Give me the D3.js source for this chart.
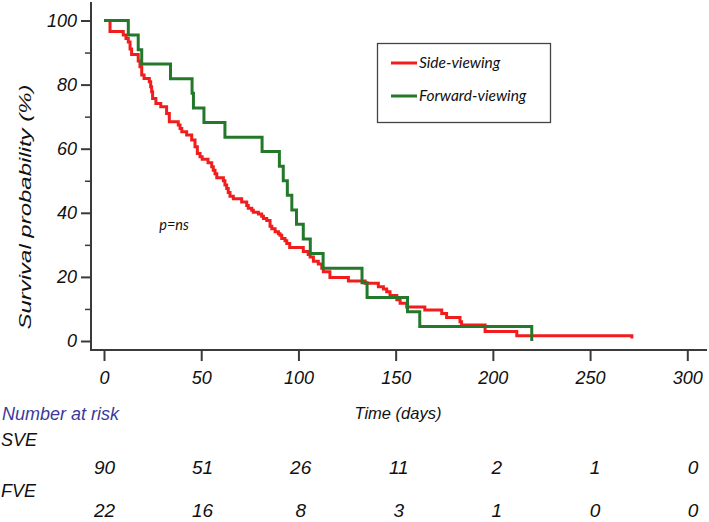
<!DOCTYPE html>
<html><head><meta charset="utf-8">
<script src="https://cdn.jsdelivr.net/npm/d3@7"></script>
<style>body{margin:0;background:#fff}svg{display:block}</style>
</head><body>
<script>
// ---- data ----
const sveTimes = [0,3.1,9.9,11.3,12.5,13.4,14.2,17.6,18.5,19.4,20.6,23.3,24.0,24.5,25.0,26.7,29.2,32.2,33.6,38.2,39.1,40.0,42.5,45.1,46.8,48.0,49.4,50.5,53.5,55.4,56.2,57.1,58.0,61.4,62.2,63.1,63.9,64.8,66.5,70.8,73.4,74.2,76.0,76.8,79.4,81.1,82.0,83.7,85.4,86.3,88.0,89.7,90.5,91.4,93.1,94.0,95.5,102.5,105,106,107.7,110.2,112,112.8,116.2,125.7,134.3,141.1,143.7,145.4,147.1,150.6,152.3,155.7,165,173.7,176.2,183.1,183.9,196,212.3,271.5];
const sveSurv  = [100,96.6,95.5,94.4,93.3,91.1,89.4,87.4,85.6,83.0,81.9,80.9,79.3,77.8,75.7,74.1,73.1,71.0,68.4,67.4,66.3,65.3,64.3,62.7,60.6,58.5,57.5,56.7,55.6,54.4,53.3,52.2,50.9,50.0,48.7,47.6,46.3,45.2,44.4,43.4,42.3,41.4,40.8,40.2,39.6,38.9,38.2,37.6,35.8,35.0,34.1,33.5,33.0,32.0,31.3,30.4,29.2,27.9,27.0,26.2,24.9,24.0,22.7,21.6,19.8,18.7,18.0,16.9,16.2,15.4,14.2,12.9,11.8,10.6,9.7,8.6,7.3,6.0,5.0,3.0,1.6,0.8];
const fveTimes = [0,12.5,17.6,19.4,34.2,45.3,46.0,51.4,62.2,81.3,90.2,92.2,94.3,96.6,99.0,102.5,106.1,112.7,132.7,135.3,156.1,162.4,220];
const fveSurv  = [100,95.5,90.9,86.4,81.8,77.3,72.7,68.2,63.6,59.1,54.5,50.0,45.5,40.9,36.4,31.8,27.3,22.7,18.2,13.6,9.1,4.5,0];
const seriesNames = ["Side-viewing","Forward-viewing"];
const seriesColors = ["#f21c1c","#23782a"];
const xTicks = [0,50,100,150,200,250,300];
const yTicks = [0,20,40,60,80,100];
const yMinorTicks = [10,30,50,70,90];
const riskTimes = [0,50,100,150,200,250,300];
const riskGroups = ["SVE","FVE"];
const sveRisk = [90,51,26,11,2,1,0];
const fveRisk = [22,16,8,3,1,0,0];

// ---- layout ----
const W = 709, H = 522;
const svg = d3.select("body").append("svg").attr("width",W).attr("height",H);
const x = d3.scaleLinear().domain([0,300]).range([104,687.3]);
const y = d3.scaleLinear().domain([0,100]).range([341,20.5]);
const xRisk = d3.scaleLinear().domain([0,300]).range([104.5,693]);
const axisY0 = 350, axisX0 = 91;
const fontA = "'Liberation Sans', Arial, sans-serif";
const fontC = "Lato, 'Open Sans', sans-serif";
const axisColor = "#3a3a3a";

// axis lines
svg.append("line").attr("x1",axisX0).attr("x2",axisX0).attr("y1",2).attr("y2",axisY0+1)
  .attr("stroke",axisColor).attr("stroke-width",2);
svg.append("line").attr("x1",axisX0-1).attr("x2",707).attr("y1",axisY0).attr("y2",axisY0)
  .attr("stroke",axisColor).attr("stroke-width",2);

// y axis
const gy = svg.append("g").attr("transform",`translate(${axisX0},0)`)
  .call(d3.axisLeft(y).tickValues(yTicks).tickSize(10).tickPadding(4).tickFormat(d3.format("d")));
gy.select(".domain").remove();
gy.selectAll("line").attr("stroke",axisColor).attr("stroke-width",2);
gy.selectAll("text").attr("font-family",fontA).attr("font-style","italic").attr("font-size",18).attr("fill","#111");
const gym = svg.append("g").attr("transform",`translate(${axisX0},0)`)
  .call(d3.axisLeft(y).tickValues(yMinorTicks).tickSize(6).tickFormat(""));
gym.select(".domain").remove();
gym.selectAll("line").attr("stroke",axisColor).attr("stroke-width",1.5);

// x axis
const gx = svg.append("g").attr("transform",`translate(0,${axisY0})`)
  .call(d3.axisBottom(x).tickValues(xTicks).tickSize(11).tickPadding(10).tickFormat(d3.format("d")));
gx.select(".domain").remove();
gx.selectAll("line").attr("stroke",axisColor).attr("stroke-width",2);
gx.selectAll("text").attr("font-family",fontA).attr("font-style","italic").attr("font-size",18).attr("fill","#111");

// axis titles
svg.append("text").attr("transform","translate(25,207) rotate(-90)")
  .attr("text-anchor","middle").attr("dominant-baseline","central")
  .attr("font-family",fontA).attr("font-style","italic").attr("font-size",17).attr("fill","#111")
  .attr("textLength",245).attr("lengthAdjust","spacingAndGlyphs")
  .text("Survival probability (%)");
svg.append("text").attr("x",398).attr("y",419).attr("text-anchor","middle")
  .attr("font-family",fontA).attr("font-style","italic").attr("font-size",16.5).attr("fill","#111")
  .text("Time (days)");

// curves
const line = d3.line().x(d=>x(d[0])).y(d=>y(d[1])).curve(d3.curveStepAfter);
const series = [d3.zip(sveTimes,sveSurv), d3.zip(fveTimes,fveSurv)];
svg.append("path").datum(series[0]).attr("d",line).attr("fill","none")
  .attr("stroke",seriesColors[0]).attr("stroke-width",3).attr("stroke-linejoin","miter");
svg.append("path").datum(series[1]).attr("d",line).attr("fill","none")
  .attr("stroke",seriesColors[1]).attr("stroke-width",3).attr("stroke-linejoin","miter");

// p value
svg.append("text").attr("x",174).attr("y",230).attr("text-anchor","middle")
  .attr("font-family",fontC).attr("font-style","italic").attr("font-size",14.5).attr("fill","#111")
  .text("p=ns");

// legend
const lg = svg.append("g");
lg.append("rect").attr("x",377.5).attr("y",43.5).attr("width",173).attr("height",79)
  .attr("fill","#fff").attr("stroke","#444").attr("stroke-width",1.3);
seriesNames.forEach((n,i)=>{
  const yy = 63 + i*33;
  lg.append("line").attr("x1",391).attr("x2",417).attr("y1",yy).attr("y2",yy)
    .attr("stroke",seriesColors[i]).attr("stroke-width",3);
  lg.append("text").attr("x",419).attr("y",yy+5)
    .attr("font-family",fontC).attr("font-style","italic").attr("font-size",15.5).attr("fill","#111")
    .text(n);
});

// number at risk
svg.append("text").attr("x",2).attr("y",420)
  .attr("font-family",fontA).attr("font-style","italic").attr("font-size",18).attr("fill","#3a3a9a")
  .text("Number at risk");
const riskRows = [sveRisk, fveRisk];
const labelBase = [446, 497];
const rowBase = [474, 517];
riskGroups.forEach((g,i)=>{
  svg.append("text").attr("x",1).attr("y",labelBase[i])
    .attr("font-family",fontA).attr("font-style","italic").attr("font-size",18).attr("fill","#111")
    .text(g);
  svg.append("g").selectAll("text").data(riskRows[i]).join("text")
    .attr("x",(d,j)=>xRisk(riskTimes[j])).attr("y",rowBase[i]).attr("text-anchor","middle")
    .attr("font-family",fontA).attr("font-style","italic").attr("font-size",19).attr("fill","#111")
    .text(d=>d);
});
</script>
</body></html>
